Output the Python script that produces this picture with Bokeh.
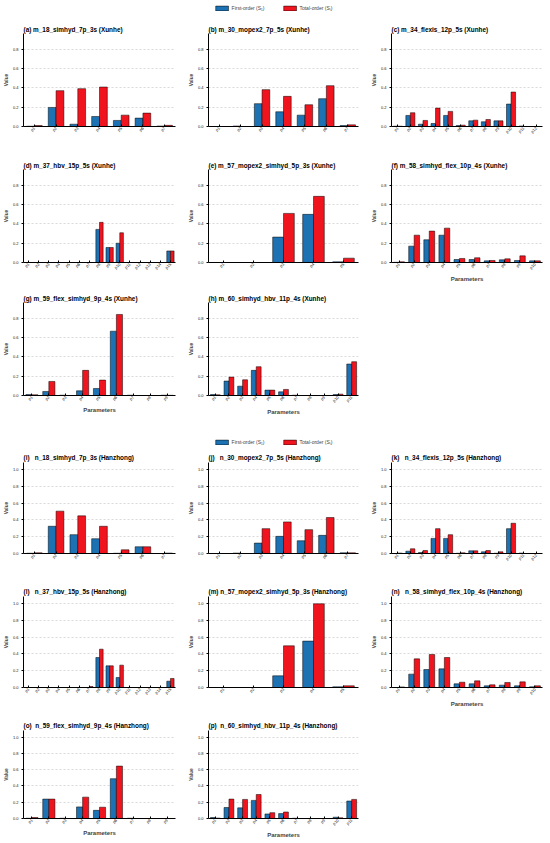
import math
from bokeh.plotting import figure
from bokeh.models import (FactorRange, Range1d, FixedTicker, PrintfTickFormatter,
                          Legend, LegendItem, ColumnDataSource, Spacer)
from bokeh.transform import dodge
from bokeh.layouts import column, row
from bokeh.embed import file_html
from bokeh.resources import INLINE

FONT = "Liberation Sans"
BLUE = "#1c72b2"
RED = "#f0141e"

PARAMS = ["p1", "p2", "p3", "p4", "p5", "p6", "p7", "p8", "p9", "p10",
          "p11", "p12", "p13", "p14", "p15"]
LEGEND_LABELS = ["First-order (S\u2081)", "Total-order (S\u209c)"]
YTICKS_XUNHE = [0.0, 0.2, 0.4, 0.6, 0.8]
YTICKS_HANZHONG = [0.0, 0.2, 0.4, 0.6, 0.8, 1.0]

# ---------------- Xunhe ----------------
title_a = "(a) m_18_simhyd_7p_3s (Xunhe)"
first_a = [0.003, 0.198, 0.024, 0.104, 0.063, 0.087, 0.005]
total_a = [0.010, 0.372, 0.393, 0.410, 0.118, 0.139, 0.012]

title_b = "(b) m_30_mopex2_7p_5s (Xunhe)"
first_b = [0.0, 0.005, 0.237, 0.153, 0.118, 0.289, 0.010]
total_b = [0.0, 0.0, 0.383, 0.313, 0.226, 0.424, 0.017]

title_c = "(c) m_34_flexis_12p_5s (Xunhe)"
first_c = [0.003, 0.115, 0.024, 0.031, 0.115, 0.010, 0.059, 0.049, 0.059, 0.233, 0.005, 0.0]
total_c = [0.003, 0.143, 0.063, 0.191, 0.157, 0.014, 0.066, 0.073, 0.059, 0.358, 0.0, 0.0]

title_d = "(d) m_37_hbv_15p_5s (Xunhe)"
first_d = [0.0, 0.0, 0.0, 0.0, 0.0, 0.0, 0.0, 0.344, 0.156, 0.200, 0.0, 0.0, 0.0, 0.0, 0.120]
total_d = [0.0, 0.0, 0.0, 0.0, 0.0, 0.0, 0.0, 0.417, 0.156, 0.309, 0.0, 0.0, 0.0, 0.0, 0.120]

title_e = "(e) m_57_mopex2_simhyd_5p_3s (Xunhe)"
first_e = [0.0, 0.0, 0.264, 0.500, 0.007]
total_e = [0.0, 0.0, 0.510, 0.687, 0.045]

title_f = "(f) m_58_simhyd_flex_10p_4s (Xunhe)"
first_f = [0.002, 0.170, 0.236, 0.284, 0.031, 0.031, 0.017, 0.028, 0.021, 0.017]
total_f = [0.007, 0.284, 0.326, 0.357, 0.042, 0.049, 0.021, 0.038, 0.069, 0.017]

title_g = "(g) m_59_flex_simhyd_9p_4s (Xunhe)"
first_g = [0.010, 0.042, 0.003, 0.049, 0.073, 0.668, 0.003, 0.0, 0.003]
total_g = [0.007, 0.146, 0.0, 0.261, 0.160, 0.842, 0.0, 0.0, 0.002]

title_h = "(h) m_60_simhyd_hbv_11p_4s (Xunhe)"
first_h = [0.010, 0.150, 0.097, 0.261, 0.056, 0.038, 0.003, 0.0, 0.0, 0.010, 0.327]
total_h = [0.007, 0.191, 0.163, 0.299, 0.056, 0.063, 0.0, 0.0, 0.0, 0.014, 0.351]

# ---------------- Hanzhong ----------------
title_i = "(i)\u00a0\u00a0 n_18_simhyd_7p_3s (Hanzhong)"
first_i = [0.003, 0.324, 0.224, 0.176, 0.003, 0.080, 0.0]
total_i = [0.008, 0.504, 0.448, 0.324, 0.044, 0.080, 0.005]

title_j = "(j)\u00a0\u00a0 n_30_mopex2_7p_5s (Hanzhong)"
first_j = [0.0, 0.005, 0.124, 0.204, 0.152, 0.216, 0.008]
total_j = [0.0, 0.0, 0.296, 0.376, 0.284, 0.428, 0.008]

title_k = "(k)\u00a0\u00a0 n_34_flexis_12p_5s (Hanzhong)"
first_k = [0.0, 0.028, 0.012, 0.180, 0.180, 0.003, 0.032, 0.020, 0.003, 0.296, 0.005, 0.0]
total_k = [0.005, 0.056, 0.036, 0.296, 0.224, 0.008, 0.032, 0.036, 0.020, 0.360, 0.0, 0.0]

title_l = "(l)\u00a0\u00a0 n_37_hbv_15p_5s (Hanzhong)"
first_l = [0.0, 0.0, 0.0, 0.0, 0.0, 0.0, 0.0, 0.357, 0.258, 0.119, 0.0, 0.0, 0.0, 0.0, 0.075]
total_l = [0.0, 0.0, 0.0, 0.0, 0.0, 0.0, 0.012, 0.456, 0.258, 0.266, 0.0, 0.0, 0.0, 0.0, 0.107]

title_m = "(m) n_57_mopex2_simhyd_5p_3s (Hanzhong)"
first_m = [0.0, 0.0, 0.139, 0.552, 0.008]
total_m = [0.0, 0.0, 0.496, 0.996, 0.020]

title_n = "(n)\u00a0\u00a0 n_58_simhyd_flex_10p_4s (Hanzhong)"
first_n = [0.0, 0.159, 0.214, 0.222, 0.044, 0.044, 0.020, 0.028, 0.020, 0.008]
total_n = [0.007, 0.341, 0.393, 0.357, 0.063, 0.079, 0.032, 0.060, 0.067, 0.020]

title_o = "(o)\u00a0 n_59_flex_simhyd_9p_4s (Hanzhong)"
first_o = [0.003, 0.239, 0.003, 0.143, 0.100, 0.490, 0.003, 0.0, 0.0]
total_o = [0.012, 0.239, 0.0, 0.263, 0.139, 0.645, 0.0, 0.0, 0.0]

title_p = "(p)\u00a0 n_60_simhyd_hbv_11p_4s (Hanzhong)"
first_p = [0.012, 0.135, 0.131, 0.223, 0.056, 0.060, 0.003, 0.0, 0.0, 0.016, 0.215]
total_p = [0.005, 0.239, 0.235, 0.295, 0.072, 0.080, 0.0, 0.0, 0.0, 0.008, 0.235]

# column geometry: (figure width, left border, right border)
COLS = [(185, 22, 10), (183, 22, 10), (178, 22, 4)]
TOTAL_W = 546


def panel(title, first, total, col, ymax, yticks, top, frame_h, bottom, xlabel, standoff):
    width, left, right = COLS[col]
    params = PARAMS[:len(first)]
    p = figure(width=width, height=top + frame_h + bottom,
               x_range=FactorRange(factors=params, range_padding=0),
               y_range=Range1d(0, ymax),
               output_backend="svg", toolbar_location=None,
               min_border_left=left, min_border_right=right,
               min_border_top=top, min_border_bottom=bottom, title=title)
    p.background_fill_color = "white"
    p.border_fill_color = "white"
    p.outline_line_color = None

    p.title.text_font = FONT
    p.title.text_font_size = "6.4px"
    p.title.text_font_style = "bold"
    p.title.text_color = "black"
    p.title.align = "left"
    p.title.standoff = standoff
    p.title.offset = 0

    src = ColumnDataSource(dict(param=params, first=first, total=total))
    p.vbar(x=dodge("param", -0.18, range=p.x_range), top="first", width=0.36,
           source=src, fill_color=BLUE, line_color="black", line_width=0.5)
    p.vbar(x=dodge("param", 0.18, range=p.x_range), top="total", width=0.36,
           source=src, fill_color=RED, line_color="black", line_width=0.5)

    p.xgrid.visible = False
    p.ygrid.grid_line_color = "#c8c8c8"
    p.ygrid.grid_line_dash = "2 2"
    p.ygrid.grid_line_width = 0.7

    xa = p.xaxis[0]
    xa.major_label_orientation = math.pi / 4
    xa.major_label_text_font = FONT
    xa.major_label_text_font_size = "4.1px"
    xa.major_label_text_color = "#222222"
    xa.major_label_standoff = 1
    xa.major_tick_in = 2
    xa.major_tick_out = 0
    xa.minor_tick_line_color = None
    xa.axis_line_color = "black"
    xa.axis_line_width = 1
    xa.major_tick_line_color = "black"
    if xlabel:
        xa.axis_label = "Parameters"
        xa.axis_label_text_font = FONT
        xa.axis_label_text_font_size = "6px"
        xa.axis_label_text_font_style = "bold"
        xa.axis_label_standoff = 1

    ya = p.yaxis[0]
    ya.ticker = FixedTicker(ticks=yticks, minor_ticks=[])
    ya.formatter = PrintfTickFormatter(format="%.1f")
    ya.major_label_text_font = FONT
    ya.major_label_text_font_size = "4px"
    ya.major_label_text_color = "#222222"
    ya.major_label_standoff = 3
    ya.major_tick_in = 0
    ya.major_tick_out = 2
    ya.axis_line_color = "black"
    ya.axis_line_width = 1
    ya.axis_label = "Value"
    ya.axis_label_text_font = FONT
    ya.axis_label_text_font_size = "4.8px"
    ya.axis_label_text_font_style = "bold"
    ya.axis_label_standoff = 1
    return p


def legend_fig(height):
    lf = figure(width=TOTAL_W, height=height, x_range=Range1d(0, 1), y_range=Range1d(0, 1),
                output_backend="svg", toolbar_location=None, min_border=0,
                x_axis_location=None, y_axis_location=None)
    lf.grid.visible = False
    lf.outline_line_color = None
    lf.background_fill_color = "white"
    lf.border_fill_color = "white"
    # proxy source placed outside the visible range: only the legend swatches show
    src = ColumnDataSource(dict(x=[-5.0], top=[0.0]))
    r1 = lf.vbar(x="x", top="top", width=0.1, source=src, fill_color=BLUE,
                 line_color="black", line_width=0.5)
    r2 = lf.vbar(x="x", top="top", width=0.1, source=src, fill_color=RED,
                 line_color="black", line_width=0.5)
    leg = Legend(items=[LegendItem(label=LEGEND_LABELS[0], renderers=[r1]),
                        LegendItem(label=LEGEND_LABELS[1], renderers=[r2])],
                 orientation="horizontal", location="center",
                 glyph_width=16, glyph_height=6, label_standoff=2, spacing=17,
                 padding=0, margin=0, label_height=6,
                 label_text_font=FONT, label_text_font_size="5px",
                 border_line_color=None, background_fill_alpha=0)
    lf.add_layout(leg, "center")
    return lf


YX = 0.966   # Xunhe frames: 93 px tall -> 96 px per unit
YH = 1.083   # Hanzhong frames: 91 px tall -> 84 px per unit

pa = panel(title_a, first_a, total_a, 0, YX, YTICKS_XUNHE, 17, 93, 26, False, 1)
pb = panel(title_b, first_b, total_b, 1, YX, YTICKS_XUNHE, 17, 93, 26, False, 1)
pc = panel(title_c, first_c, total_c, 2, YX, YTICKS_XUNHE, 17, 93, 26, False, 1)
pd = panel(title_d, first_d, total_d, 0, YX, YTICKS_XUNHE, 17, 93, 23, False, 1)
pe = panel(title_e, first_e, total_e, 1, YX, YTICKS_XUNHE, 17, 93, 23, False, 1)
pf = panel(title_f, first_f, total_f, 2, YX, YTICKS_XUNHE, 17, 93, 23, True, 1)
pg = panel(title_g, first_g, total_g, 0, YX, YTICKS_XUNHE, 17, 93, 22, True, 1)
ph = panel(title_h, first_h, total_h, 1, YX, YTICKS_XUNHE, 17, 93, 22, True, 1)

pi = panel(title_i, first_i, total_i, 0, YH, YTICKS_HANZHONG, 13, 91, 30, False, 4)
pj = panel(title_j, first_j, total_j, 1, YH, YTICKS_HANZHONG, 13, 91, 30, False, 4)
pk = panel(title_k, first_k, total_k, 2, YH, YTICKS_HANZHONG, 13, 91, 30, False, 4)
pl = panel(title_l, first_l, total_l, 0, YH, YTICKS_HANZHONG, 13, 91, 30, False, 4)
pm = panel(title_m, first_m, total_m, 1, YH, YTICKS_HANZHONG, 13, 91, 30, False, 4)
pn = panel(title_n, first_n, total_n, 2, YH, YTICKS_HANZHONG, 13, 91, 30, True, 4)
po = panel(title_o, first_o, total_o, 0, YH, YTICKS_HANZHONG, 13, 91, 19, True, 4)
pp = panel(title_p, first_p, total_p, 1, YH, YTICKS_HANZHONG, 13, 91, 19, True, 4)

layout = column(
    legend_fig(16),
    row(pa, pb, pc),
    row(pd, pe, pf),
    row(pg, ph),
    Spacer(width=TOTAL_W, height=18),
    legend_fig(14),
    row(pi, pj, pk),
    row(pl, pm, pn),
    row(po, pp),
)

open("out.html", "w").write(file_html(layout, INLINE))
